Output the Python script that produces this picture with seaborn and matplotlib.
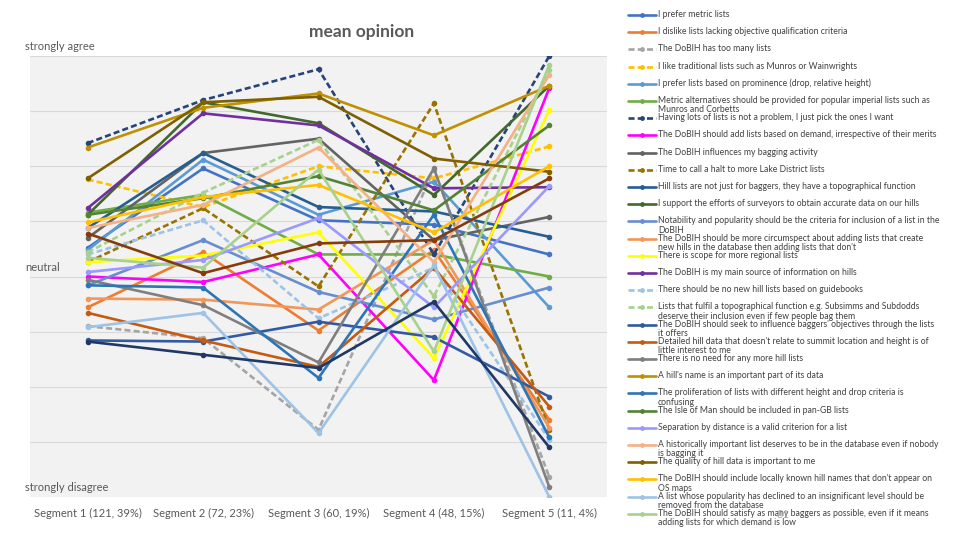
import matplotlib

matplotlib.use("Agg")

import matplotlib.pyplot as plt
from matplotlib.lines import Line2D
import seaborn as sns
import pandas as pd

# x axis categories
segments = ["Segment 1 (121, 39%)", "Segment 2 (72, 23%)", "Segment 3 (60, 19%)",
            "Segment 4 (48, 15%)", "Segment 5 (11, 4%)"]

# series names (the last two are drawn but not listed in the legend)
statements = [
    "I prefer metric lists",
    "I dislike lists lacking objective qualification criteria",
    "The DoBIH has too many lists",
    "I like traditional lists such as Munros or Wainwrights",
    "I prefer lists based on prominence (drop, relative height)",
    "Metric alternatives should be provided for popular imperial lists such as\nMunros and Corbetts",
    "Having lots of lists is not a problem, I just pick the ones I want",
    "The DoBIH should add lists based on demand, irrespective of their merits",
    "The DoBIH influences my bagging activity",
    "Time to call a halt to more Lake District lists",
    "Hill lists are not just for baggers, they have a topographical function",
    "I support the efforts of surveyors to obtain accurate data on our hills",
    "Notability and popularity should be the criteria for inclusion of a list in the\nDoBIH",
    "The DoBIH should be more circumspect about adding lists that create\nnew hills in the database then adding lists that don't",
    "There is scope for more regional lists",
    "The DoBIH is my main source of information on hills",
    "There should be no new hill lists based on guidebooks",
    "Lists that fulfil a topographical function e.g. Subsimms and Subdodds\ndeserve their inclusion even if few people bag them",
    "The DoBIH should seek to influence baggers' objectives through the lists\nit offers",
    "Detailed hill data that doesn't relate to summit location and height is of\nlittle interest to me",
    "There is no need for any more hill lists",
    "A hill's name is an important part of its data",
    "The proliferation of lists with different height and drop criteria is\nconfusing",
    "The Isle of Man should be included in pan-GB lists",
    "Separation by distance is a valid criterion for a list",
    "A historically important list deserves to be in the database even if nobody\nis bagging it",
    "The quality of hill data is important to me",
    "The DoBIH should include locally known hill names that don't appear on\nOS maps",
    "A list whose popularity has declined to an insignificant level should be\nremoved from the database",
    "The DoBIH should satisfy as many baggers as possible, even if it means\nadding lists for which demand is low",
    "Series 31",
    "Series 32",
]
n_legend = 30

# mean opinion per segment (1 = strongly disagree, 3 = neutral, 5 = strongly agree)
seg1 = [3.26, 2.72, 2.55, 3.88, 3.24, 3.58, 4.21, 3.00, 3.35, 3.13, 3.44, 3.56, 2.92, 2.80, 3.13, 3.62,
        3.20, 3.22, 2.42, 2.67, 2.97, 4.17, 2.92, 3.56, 3.04, 3.44, 3.89, 3.49, 2.54, 3.17, 3.39, 2.41]
seg2 = [3.98, 3.22, 2.44, 3.63, 4.06, 3.74, 4.60, 2.95, 4.12, 3.62, 4.12, 4.58, 3.33, 2.79, 3.19, 4.48,
        3.51, 3.76, 2.41, 2.42, 2.74, 4.53, 2.90, 3.71, 3.15, 3.65, 4.58, 3.72, 2.67, 3.08, 3.03, 2.29]
seg3 = [3.51, 2.51, 1.61, 4.00, 3.56, 3.20, 4.88, 3.20, 4.25, 2.91, 3.63, 4.39, 2.86, 2.70, 3.40, 4.37,
        2.62, 4.24, 2.59, 2.18, 2.22, 4.66, 2.08, 3.91, 3.53, 4.17, 4.63, 3.83, 1.58, 3.97, 3.30, 2.17]
seg4 = [3.47, 3.24, 3.97, 3.89, 3.86, 3.20, 3.20, 2.06, 3.33, 4.57, 3.59, 3.74, 2.61, 3.33, 2.26, 3.80,
        3.08, 2.82, 2.45, 3.08, 3.98, 4.28, 3.56, 3.60, 2.72, 3.13, 4.07, 3.40, 3.10, 2.32, 3.33, 2.77]
seg5 = [3.20, 1.70, 1.18, 4.18, 2.72, 3.00, 5.00, 4.71, 3.54, 1.61, 3.36, 4.73, 2.90, 1.63, 4.51, 3.81,
        1.52, 4.87, 1.91, 1.82, 1.09, 4.73, 1.54, 4.37, 3.82, 4.83, 3.95, 4.00, 1.00, 4.92, 3.89, 1.45]
scores = [seg1, seg2, seg3, seg4, seg5]

# styles
colors = ["#4472C4", "#ED7D31", "#A5A5A5", "#FFC000", "#5B9BD5", "#70AD47", "#264478", "#FF00FF",
          "#636363", "#997300", "#255E91", "#43682B", "#698ED0", "#F1975A", "#FFFF00", "#7030A0",
          "#9DC3E6", "#A9D18E", "#335AA1", "#C55A11", "#7F7F7F", "#BF9000", "#2E75B6", "#548235",
          "#9999FF", "#F4B183", "#7F6000", "#FFC000", "#9DC3E6", "#A9D18E", "#843C0C", "#203864"]
dashed = [False, False, True, True, False, False, True, False, False, True, False, False, False, False,
          False, False, True, True, False, False, False, False, False, False, False, False, False, False,
          False, False, False, False]
DASH = (2.3, 1.2)
TEXT = "#595959"

sns.set_theme(style="white")
plt.rcParams["font.family"] = ["Lato", "DejaVu Sans"]

# long form table for seaborn
rows = []
for i, name in enumerate(statements):
    for j, seg in enumerate(segments):
        rows.append({"statement": name, "segment": seg, "score": scores[j][i]})
df = pd.DataFrame(rows)

fig = plt.figure(figsize=(9.6, 5.4), dpi=100)
ax = fig.add_axes([30 / 960, 1 - 497 / 540, 577 / 960, 441 / 540])
ax.set_facecolor("#F2F2F2")

sns.lineplot(data=df, x="segment", y="score", hue="statement", style="statement",
             hue_order=statements, style_order=statements,
             palette=dict(zip(statements, colors)),
             dashes={s: (DASH if d else "") for s, d in zip(statements, dashed)},
             markers={s: "o" for s in statements},
             sort=False, legend=False, errorbar=None,
             linewidth=1.9, markersize=4, markeredgewidth=0, ax=ax)

ax.set_xlim(-0.5, 4.5)
ax.set_ylim(1, 5)
ax.set_yticks([1 + 0.5 * k for k in range(9)])
ax.set_yticklabels([])
ax.grid(axis="y", color="#D9D9D9", lw=0.8)
ax.grid(axis="x", visible=False)
ax.set_axisbelow(True)
for sp in ax.spines.values():
    sp.set_visible(False)
ax.tick_params(axis="both", length=0)
ax.tick_params(axis="x", pad=8, labelsize=8, labelcolor=TEXT)
ax.set_xlabel("")
ax.set_ylabel("")

# opinion labels sitting just above their gridline
for val, txt in [(5, "strongly agree"), (3, "neutral"), (1, "strongly disagree")]:
    ax.text(-0.009, val + 0.035, txt, transform=ax.get_yaxis_transform(),
            ha="left", va="bottom", fontsize=8, color=TEXT)

fig.text(362 / 960, 1 - 32 / 540, "mean opinion", ha="center", va="center",
         fontsize=12.5, fontweight="bold", color=TEXT)

# legend drawn as fixed slots, like the original
for i in range(n_legend):
    y = 1 - (15 + i * 17.2) / 540
    ls = (0, DASH) if dashed[i] else "-"
    fig.add_artist(Line2D([628 / 960, 656 / 960], [y, y], transform=fig.transFigure,
                          color=colors[i], lw=1.9, ls=ls))
    fig.add_artist(Line2D([642 / 960], [y], transform=fig.transFigure,
                          color=colors[i], marker="o", ms=3.5, mew=0, ls=""))
    fig.text(658 / 960, y + 5.0 / 540, statements[i], ha="left", va="top",
             fontsize=6.2, color="#404040", linespacing=1.02)

fig.text(783 / 960, 1 - 514 / 540, "31", ha="center", va="center", fontsize=8, color="#A6A6A6")

fig.savefig("out.png", dpi=100)
